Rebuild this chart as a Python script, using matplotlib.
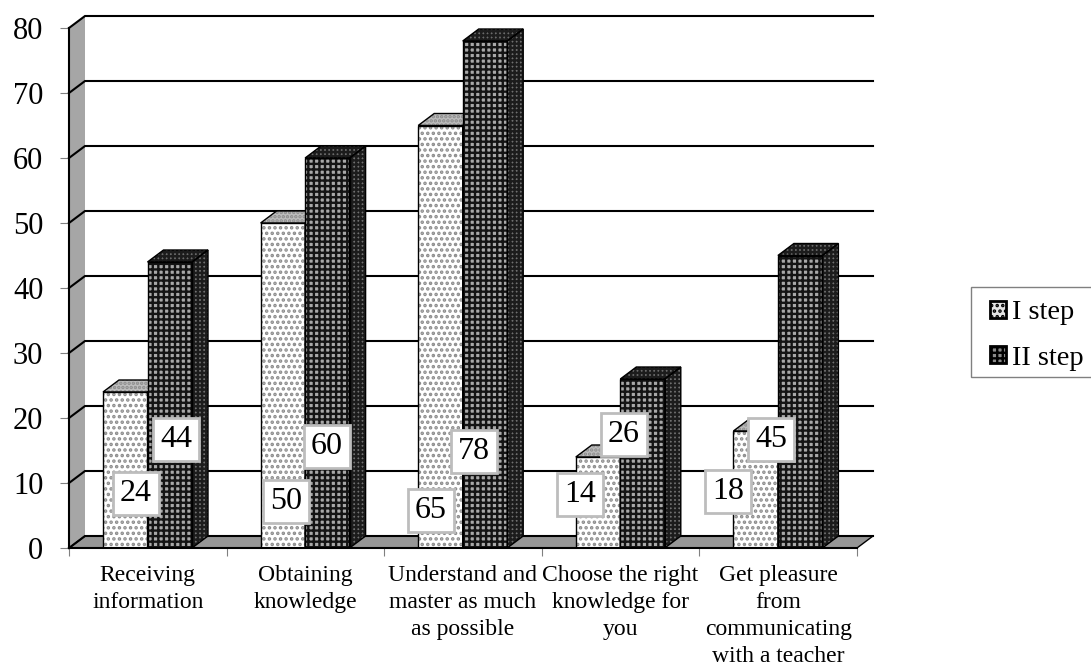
import matplotlib
matplotlib.use("Agg")
import matplotlib.pyplot as plt
import numpy as np
from matplotlib.patches import Patch, Polygon, Rectangle

plt.rcParams['font.family'] = ['Liberation Serif', 'DejaVu Serif']
plt.rcParams['hatch.linewidth'] = 1.7

categories = ["Receiving\ninformation", "Obtaining\nknowledge",
              "Understand and\nmaster as much\nas possible",
              "Choose the right\nknowledge for\nyou",
              "Get pleasure\nfrom\ncommunicating\nwith a teacher"]
step_one = [24, 50, 65, 14, 18]
step_two = [44, 60, 78, 26, 45]
series_names = ["I step", "II step"]
y_ticks = [0, 10, 20, 30, 40, 50, 60, 70, 80]

W, H = 1091, 666
fig = plt.figure(figsize=(W / 100, H / 100), dpi=100, facecolor="white")
ax = fig.add_axes([69 / W, 1 - 548 / H, 788 / W, 520 / H])
ax.set_xlim(0, 5)
ax.set_ylim(0, 80)

# Depth of the pseudo-3D projection, in data units
dx = 16 / 157.6
dy = 12 / 6.5
bar_w = 44.5 / 157.6
bar_start = 34 / 157.6
WALL = "#a6a6a6"
FLOOR = "#969696"

# Back wall and floor
ax.add_patch(Polygon([(0, 0), (dx, dy), (dx, 80 + dy), (0, 80)], closed=True,
                     fc=WALL, ec="none", clip_on=False, zorder=1))
ax.add_patch(Polygon([(0, 0), (dx, dy), (5 + dx, dy), (5, 0)], closed=True,
                     fc=FLOOR, ec="black", lw=1.0, clip_on=False, zorder=1.5))
for v in y_ticks:
    ax.plot([0, dx, 5 + dx], [v, v + dy, v + dy], color="black", lw=1.5,
            clip_on=False, zorder=2, solid_joinstyle="miter")


def draw_bar(x, value, face, ink, pattern, top_face, top_ink, top_pattern,
             side_face, side_ink, side_pattern, z):
    ax.bar(x, value, bar_w, align="edge", color=face, edgecolor=ink,
           hatch=pattern, lw=0, zorder=z)
    ax.bar(x, value, bar_w, align="edge", fill=False, edgecolor="black",
           lw=1.0, zorder=z + 0.1)
    side = [(x + bar_w, 0), (x + bar_w + dx, dy),
            (x + bar_w + dx, value + dy), (x + bar_w, value)]
    top = [(x, value), (x + dx, value + dy),
           (x + bar_w + dx, value + dy), (x + bar_w, value)]
    ax.add_patch(Polygon(side, closed=True, fc=side_face, ec=side_ink,
                         hatch=side_pattern, lw=0, clip_on=False, zorder=z))
    ax.add_patch(Polygon(side, closed=True, fill=False, ec="black", lw=1.0,
                         clip_on=False, zorder=z + 0.1))
    ax.add_patch(Polygon(top, closed=True, fc=top_face, ec=top_ink,
                         hatch=top_pattern, lw=0, clip_on=False, zorder=z))
    ax.add_patch(Polygon(top, closed=True, fill=False, ec="black", lw=1.0,
                         clip_on=False, zorder=z + 0.1))


for i, (a, b) in enumerate(zip(step_one, step_two)):
    left = i + bar_start
    draw_bar(left, a, "white", "#8c8c8c", "...",
             "#bdbdbd", "#8c8c8c", "....",
             "#c8c8c8", "#666666", "....", 3)
    draw_bar(left + bar_w, b, "#a8a8a8", "#141414", "+++",
             "#6a6a6a", "#1c1c1c", "++++",
             "#707070", "#1c1c1c", "++++", 4)

# Axes furniture
for s in ("top", "right"):
    ax.spines[s].set_visible(False)
ax.spines["left"].set_linewidth(1.5)
ax.spines["bottom"].set_linewidth(1.5)
ax.spines["left"].set_zorder(6)
ax.spines["bottom"].set_zorder(6)
ax.set_yticks(y_ticks)
ax.set_xticks(np.arange(6))
ax.set_xticklabels([])
ax.set_xticks(np.arange(5) + 0.5, minor=True)
ax.set_xticklabels(categories, minor=True, fontsize=17, linespacing=1.39)
ax.tick_params(axis="y", length=6.5, width=0.8, color="#808080", pad=12, labelsize=22)
ax.tick_params(axis="x", which="major", length=5.5, width=0.8, color="#808080")
ax.tick_params(axis="x", which="minor", length=0, pad=12)

# Value tags, placed beside their bars
tag_centres_one = [(136, 490), (286, 498), (431, 507), (580, 491), (728, 488)]
tag_centres_two = [(176, 436), (327, 443), (474, 448), (624, 431), (771, 436)]
for values, centres in ((step_one, tag_centres_one), (step_two, tag_centres_two)):
    for v, (px, py) in zip(values, centres):
        ax.annotate(str(v), xy=(px, H - py), xycoords="figure pixels",
                    ha="center", va="center_baseline", fontsize=23, zorder=8,
                    annotation_clip=False,
                    bbox=dict(boxstyle="square,pad=0.22", fc="white",
                              ec="#bdbdbd", lw=2.0))

# Legend frame runs off the right edge of the canvas
fig.add_artist(Rectangle((971 / W, 1 - 377 / H), 130 / W, 90 / H,
                         transform=fig.transFigure, fc="white", ec="#808080", lw=1.0))
handles = [Patch(fc="#e4e4e4", ec="black", lw=2.0, hatch="..."),
           Patch(fc="#8a8a8a", ec="black", lw=2.0, hatch="+++")]
leg = fig.legend(handles, series_names, loc="center left",
                 bbox_to_anchor=(990 / W, 1 - 335.5 / H), bbox_transform=fig.transFigure,
                 fontsize=20.5, frameon=False,
                 handlelength=0.55, handleheight=0.55, handletextpad=0.22,
                 borderaxespad=0, borderpad=0, labelspacing=0.72)

fig.savefig("out.png", dpi=100)
